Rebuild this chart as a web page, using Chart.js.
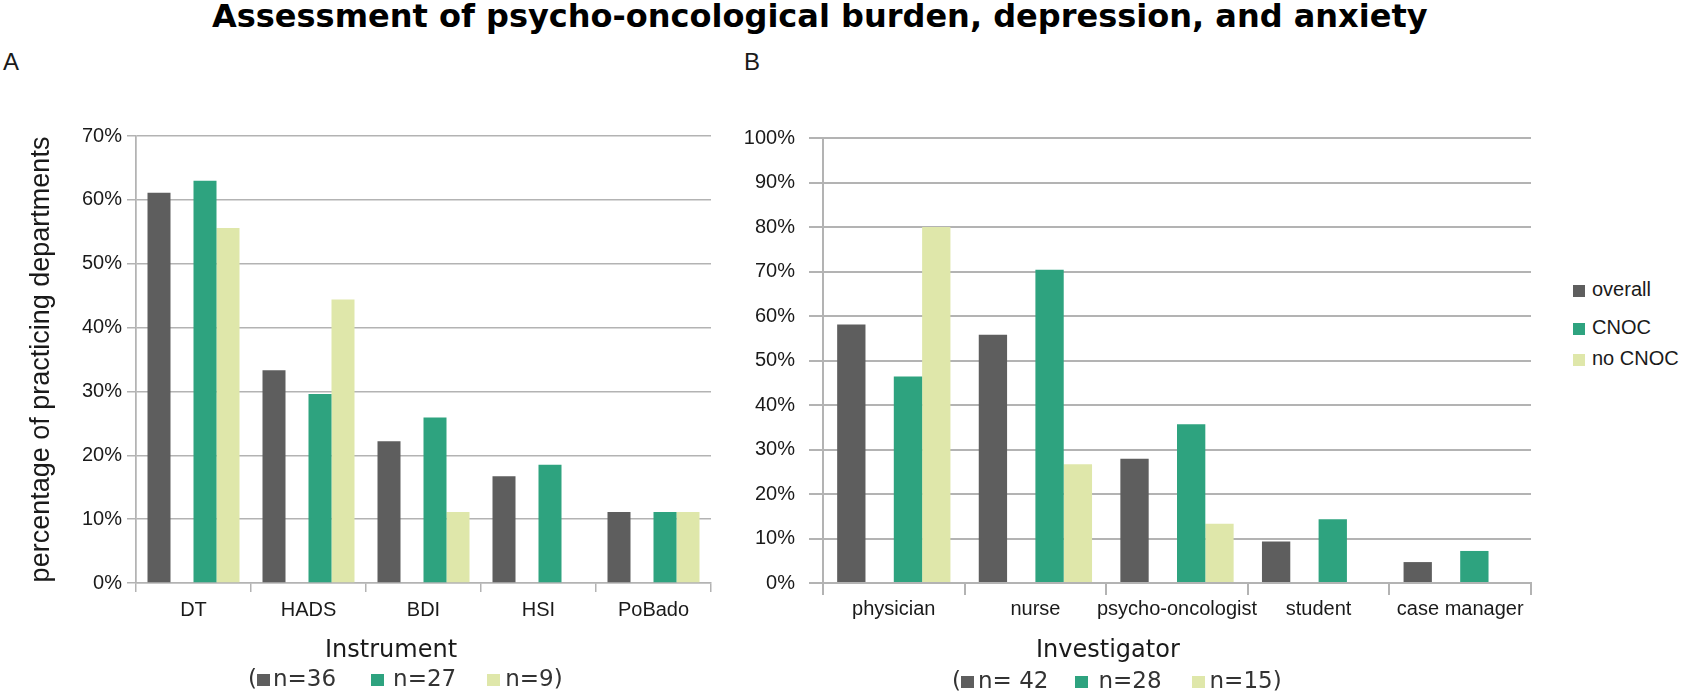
<!DOCTYPE html>
<html>
<head>
<meta charset="utf-8">
<script src="https://cdn.jsdelivr.net/npm/chart.js@4.4.1/dist/chart.umd.min.js"></script>
<style>
  body { margin: 0; width: 1681px; height: 694px; background: #fff; position: relative; overflow: hidden; font-family: "Liberation Sans", Arial, sans-serif; color: #1a1a1a; }
  .abs { position: absolute; white-space: nowrap; }
  #title { left: 212px; top: 0; font: bold 32px/32px "DejaVu Sans", sans-serif; color: #000; }
  .panel { font-size: 24px; line-height: 24px; top: 50px; }
  .xtitle { font: 24px/24px "DejaVu Sans", sans-serif; color: #1a1a1a; top: 637px; }
  .nline { font: 23px/23px "DejaVu Sans", sans-serif; color: #333; }
  .sq { display: inline-block; width: 13px; height: 12px; vertical-align: 0; }
  #legend { left: 1573px; top: 0; font-size: 20px; }
  #legend div { position: absolute; left: 0; white-space: nowrap; line-height: 20px; }
  #legend .box { display: inline-block; width: 12px; height: 12px; margin-right: 7px; vertical-align: -1px; }
  canvas { position: absolute; }
</style>
</head>
<body>
<div id="title" class="abs">Assessment of psycho-oncological burden, depression, and anxiety</div>
<div class="abs panel" style="left:3px">A</div>
<div class="abs panel" style="left:744px">B</div>

<canvas id="chartA" width="720" height="560" style="left:0;top:110px;width:720px;height:560px"></canvas>
<canvas id="chartB" width="840" height="560" style="left:720px;top:110px;width:840px;height:560px"></canvas>

<div class="abs xtitle" style="left:325px">Instrument</div>
<div class="abs nline" id="nA" style="left:248px;top:667px"></div>
<div class="abs xtitle" style="left:1036px">Investigator</div>
<div class="abs nline" id="nB" style="left:952px;top:669px"></div>

<div id="legend" class="abs"></div>

<script>
// series
const seriesNames = ['overall', 'CNOC', 'no CNOC'];
const seriesColors = ['#5e5e5e', '#2ea37f', '#dfe7aa'];

// panel A: instruments
const instruments = ['DT', 'HADS', 'BDI', 'HSI', 'PoBado'];
const instOverall = [61.1, 33.3, 22.2, 16.7, 11.1];
const instCnoc = [63.0, 29.6, 25.9, 18.5, 11.1];
const instNoCnoc = [55.6, 44.4, 11.1, 0, 11.1];
const instCounts = ['n=36', 'n=27', 'n=9'];

// panel B: investigators
const investigators = ['physician', 'nurse', 'psycho-oncologist', 'student', 'case manager'];
const invOverall = [58.1, 55.8, 27.9, 9.3, 4.7];
const invCnoc = [46.4, 70.4, 35.7, 14.3, 7.2];
const invNoCnoc = [80.0, 26.7, 13.3, 0, 0];
const invCounts = ['n= 42', 'n=28', 'n=15'];

const gridGray = '#b3b3b3';
const textColor = '#1a1a1a';

Chart.defaults.font.family = '"Liberation Sans", Arial, sans-serif';
Chart.defaults.color = textColor;

function makeDatasets(overall, cnoc, noCnoc) {
    // an empty slot sits between "overall" and "CNOC" in the original layout
    return [
        { label: seriesNames[0], data: overall, backgroundColor: seriesColors[0] },
        { label: '', data: overall.map(() => null), backgroundColor: 'transparent' },
        { label: seriesNames[1], data: cnoc, backgroundColor: seriesColors[1] },
        { label: seriesNames[2], data: noCnoc, backgroundColor: seriesColors[2] }
    ];
}

function makeChart(id, labels, datasets, opt) {
    const n = labels.length;
    return new Chart(document.getElementById(id), {
        type: 'bar',
        data: { labels: labels, datasets: datasets },
        options: {
            responsive: false,
            animation: false,
            events: [],
            layout: { padding: { top: opt.padTop, right: opt.padRight, left: 0, bottom: 0 } },
            datasets: { bar: { categoryPercentage: 0.8, barPercentage: 1.0, borderWidth: 0 } },
            plugins: { legend: { display: false }, tooltip: { enabled: false } },
            scales: {
                x: {
                    afterFit: s => { s.height = 87; },
                    grid: {
                        offset: true,
                        drawOnChartArea: true,
                        color: ctx => (ctx.index === 0 || ctx.index === n) ? gridGray : 'transparent',
                        tickColor: gridGray,
                        lineWidth: opt.lw,
                        tickLength: opt.xTick
                    },
                    border: { color: gridGray, width: opt.lw },
                    ticks: { font: { size: 20 }, color: textColor, padding: opt.xPad, maxRotation: 0, autoSkip: false }
                },
                y: {
                    min: 0,
                    max: opt.max,
                    afterFit: s => { s.width = opt.yWidth; },
                    grid: { color: gridGray, lineWidth: opt.lw, tickLength: opt.yTick },
                    border: { color: gridGray, width: opt.lw },
                    ticks: {
                        stepSize: 10,
                        font: { size: 20 },
                        color: textColor,
                        padding: opt.yPad,
                        callback: v => v + '%'
                    },
                    title: opt.yTitle ? {
                        display: true,
                        text: opt.yTitle,
                        font: { size: 27 },
                        color: textColor,
                        padding: { top: 25, bottom: 0 }
                    } : { display: false }
                }
            }
        }
    });
}

makeChart('chartA', instruments, makeDatasets(instOverall, instCnoc, instNoCnoc), {
    padTop: 26, padRight: 9, yWidth: 136, max: 70, lw: 1.5,
    xTick: 9, xPad: 6, yTick: 9, yPad: 5,
    yTitle: 'percentage of practicing departments'
});

makeChart('chartB', investigators, makeDatasets(invOverall, invCnoc, invNoCnoc), {
    padTop: 28, padRight: 29, yWidth: 103, max: 100, lw: 2,
    xTick: 12, xPad: 2, yTick: 14, yPad: 14,
    yTitle: null
});

// "(■n=.. ■n=.. ■n=..)" lines under each axis title
function fillCounts(id, counts, gaps) {
    const el = document.getElementById(id);
    let html = '(';
    counts.forEach((c, i) => {
        html += '<span class="sq" style="background:' + seriesColors[i] + ';margin-left:' + gaps[i][0] + 'px;margin-right:' + gaps[i][1] + 'px"></span>' + c;
    });
    el.innerHTML = html + ')';
}
fillCounts('nA', instCounts, [[0, 3], [35, 9], [31, 5]]);
fillCounts('nB', invCounts, [[0, 4], [27, 10], [30, 5]]);

// legend on the right
const legendTops = [279, 317, 348];
const legend = document.getElementById('legend');
seriesNames.forEach((name, i) => {
    const row = document.createElement('div');
    row.style.top = legendTops[i] + 'px';
    row.innerHTML = '<span class="box" style="background:' + seriesColors[i] + '"></span>' + name;
    legend.appendChild(row);
});
</script>
</body>
</html>
